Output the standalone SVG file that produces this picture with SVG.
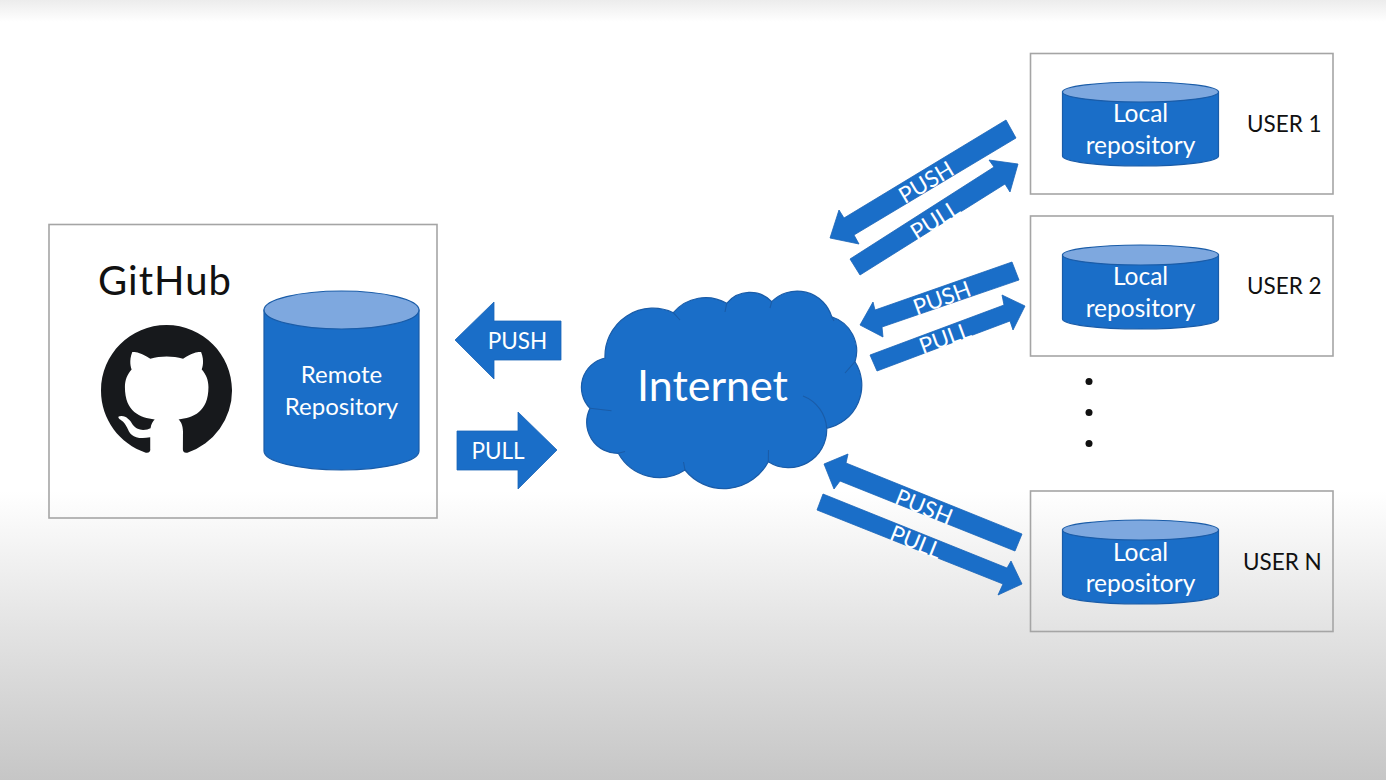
<svg xmlns="http://www.w3.org/2000/svg" width="1386" height="780" viewBox="0 0 1386 780">
<style>
text{font-family:Lato,"Liberation Sans",sans-serif}
.box{fill:none;stroke:#a5a5a5;stroke-width:1.6}
.body{fill:#1a6ec8;stroke:#1a5ca8;stroke-width:1.2}
.lid{fill:#7ea8df;stroke:#1a5ca8;stroke-width:1.2}
.arrow{fill:#1a6ec8;stroke:#1a64b8;stroke-width:.8}
.w{fill:#fff;text-anchor:middle}
.a{font-size:22.500px}
.l{font-size:24.500px}
.u{font-size:22.500px;fill:#111}
.seam{fill:none;stroke:#1a5ca8;stroke-width:1.1}
</style>
<defs>
<linearGradient id="bg" x1="0" y1="0" x2="0" y2="1">
<stop offset="0" stop-color="#ececec"/>
<stop offset=".028" stop-color="#fff"/>
<stop offset=".63" stop-color="#fff"/>
<stop offset=".8" stop-color="#e4e4e4"/>
<stop offset="1" stop-color="#c6c6c6"/>
</linearGradient>
</defs>
<rect id="background" width="1386" height="780" fill="url(#bg)"/>

<g id="github">
<rect class="box" x="49" y="224.500" width="388" height="293.500"/>
<text x="98" y="295" font-size="40" letter-spacing="1" fill="#111">GitHub</text>
<path transform="translate(101 325) scale(8.19)" fill="#17191c" d="M8 0C3.58 0 0 3.58 0 8c0 3.54 2.29 6.53 5.47 7.59.4.07.55-.17.55-.38 0-.19-.01-.82-.01-1.49-2.01.37-2.53-.49-2.69-.94-.09-.23-.48-.94-.82-1.13-.28-.15-.68-.52-.01-.53.63-.01 1.08.58 1.23.82.72 1.21 1.87.87 2.33.66.07-.52.28-.87.51-1.07-1.78-.2-3.64-.89-3.64-3.95 0-.87.31-1.59.82-2.15-.08-.2-.36-1.02.08-2.12 0 0 .67-.21 2.2.82.64-.18 1.32-.27 2-.27.68 0 1.36.09 2 .27 1.53-1.04 2.2-.82 2.2-.82.44 1.1.16 1.92.08 2.12.51.56.82 1.27.82 2.15 0 3.07-1.87 3.75-3.65 3.95.29.25.54.73.54 1.48 0 1.07-.01 1.93-.01 2.2 0 .21.15.46.55.38A8.013 8.013 0 0016 8c0-4.42-3.58-8-8-8z"/>
</g>

<g id="remote-repository">
<path class="body" d="M264 310V451A77.500 19 0 0 0 419 451V310Z"/>
<ellipse class="lid" cx="341.500" cy="310" rx="77.500" ry="19"/>
<text class="w" x="341.500" y="383" font-size="24">Remote</text>
<text class="w" x="341.500" y="415" font-size="24">Repository</text>
</g>

<g id="internet">
<path fill="#1a6ec8" stroke="#1a5ca8" stroke-width="1.2" d="M605 358A48 48 0 0 1 673.300 312.700A42 42 0 0 1 726.700 303.300A30 30 0 0 1 771.700 301.700A36 36 0 0 1 831.700 316.700A36 36 0 0 1 855 361.700A44 44 0 0 1 826.700 428.300A38 38 0 0 1 768.300 461.700A50 50 0 0 1 685 470A47 47 0 0 1 618.300 453.300A31 31 0 0 1 590 408.300A30 30 0 0 1 605 358Z"/>
<path class="seam" d="M673.300 312.700L680 320M726.700 303.300L725 312M771.700 301.700L770 308M831.700 316.700L834 321M855 361.700L845 373M803 396A37 37 0 0 1 826.700 428.300M768.300 461.700L768.500 450M685 470L683.500 462M618.300 453.300L625 451.500M590 408.300L611.500 410.700"/>
<text class="w" x="712.500" y="401" font-size="43">Internet</text>
</g>

<g id="user-1">
<rect class="box" x="1030.500" y="53.500" width="302.500" height="140.500"/>
<path class="body" d="M1062.500 92V156A78 10 0 0 0 1218.500 156V92Z"/>
<ellipse class="lid" cx="1140.500" cy="92" rx="78" ry="10"/>
<text class="w l" x="1140.500" y="122">Local</text>
<text class="w l" x="1140.500" y="154">repository</text>
<text class="u" x="1247" y="131.500">USER 1</text>
</g>

<g id="user-2">
<rect class="box" x="1030.500" y="216" width="302.500" height="140"/>
<path class="body" d="M1062.500 255V319A78 10 0 0 0 1218.500 319V255Z"/>
<ellipse class="lid" cx="1140.500" cy="255" rx="78" ry="10"/>
<text class="w l" x="1140.500" y="285">Local</text>
<text class="w l" x="1140.500" y="317">repository</text>
<text class="u" x="1247" y="294">USER 2</text>
</g>

<g id="ellipsis" fill="#111">
<circle cx="1089" cy="381.500" r="3.500"/>
<circle cx="1089" cy="412.500" r="3.500"/>
<circle cx="1089" cy="443.500" r="3.500"/>
</g>

<g id="user-n">
<rect class="box" x="1030.500" y="491" width="302.500" height="140.500"/>
<path class="body" d="M1062.500 530V594A78 10 0 0 0 1218.500 594V530Z"/>
<ellipse class="lid" cx="1140.500" cy="530" rx="78" ry="10"/>
<text class="w l" x="1140.500" y="561">Local</text>
<text class="w l" x="1140.500" y="592">repository</text>
<text class="u" x="1243" y="570">USER N</text>
</g>

<g id="connectors">
<polygon class="arrow" points="455,340 494,302 494,321 561,321 561,360 494,360 494,379"/>
<text class="w a" x="517.500" y="349">PUSH</text>
<polygon class="arrow" points="457,431 518,431 518,412 557,450 518,489 518,470 457,470"/>
<text class="w a" x="498" y="459">PULL</text>

<polygon class="arrow" points="1006,120 1016,138 854,235 859,244 830,238 839,210 844,218"/>
<text class="w a" transform="translate(926 182) rotate(-31)" y="8">PUSH</text>
<polygon class="arrow" points="850,259 994,167 989,160 1018,164 1010,192 1005,184 860,275"/>
<text class="w a" transform="translate(935 220) rotate(-32)" y="8">PULL</text>

<polygon class="arrow" points="1012,262 1019,280 882,327 883,337 860,325 873,302 875,310"/>
<text class="w a" transform="translate(942 298) rotate(-20)" y="8">PUSH</text>
<polygon class="arrow" points="870,355 1004,305 1002,295 1025,306 1013,330 1010,321 877,371"/>
<text class="w a" transform="translate(945 338) rotate(-20)" y="8">PULL</text>

<polygon class="arrow" points="824,464 848,454 846,463 1022,534 1015,551 840,481 834,489"/>
<text class="w a" transform="translate(924 507) rotate(22)" y="8">PUSH</text>
<polygon class="arrow" points="823,494 1007,568 1011,561 1022,584 998,595 1003,584 817,510"/>
<text class="w a" transform="translate(916 542) rotate(22)" y="8">PULL</text>
</g>
</svg>
